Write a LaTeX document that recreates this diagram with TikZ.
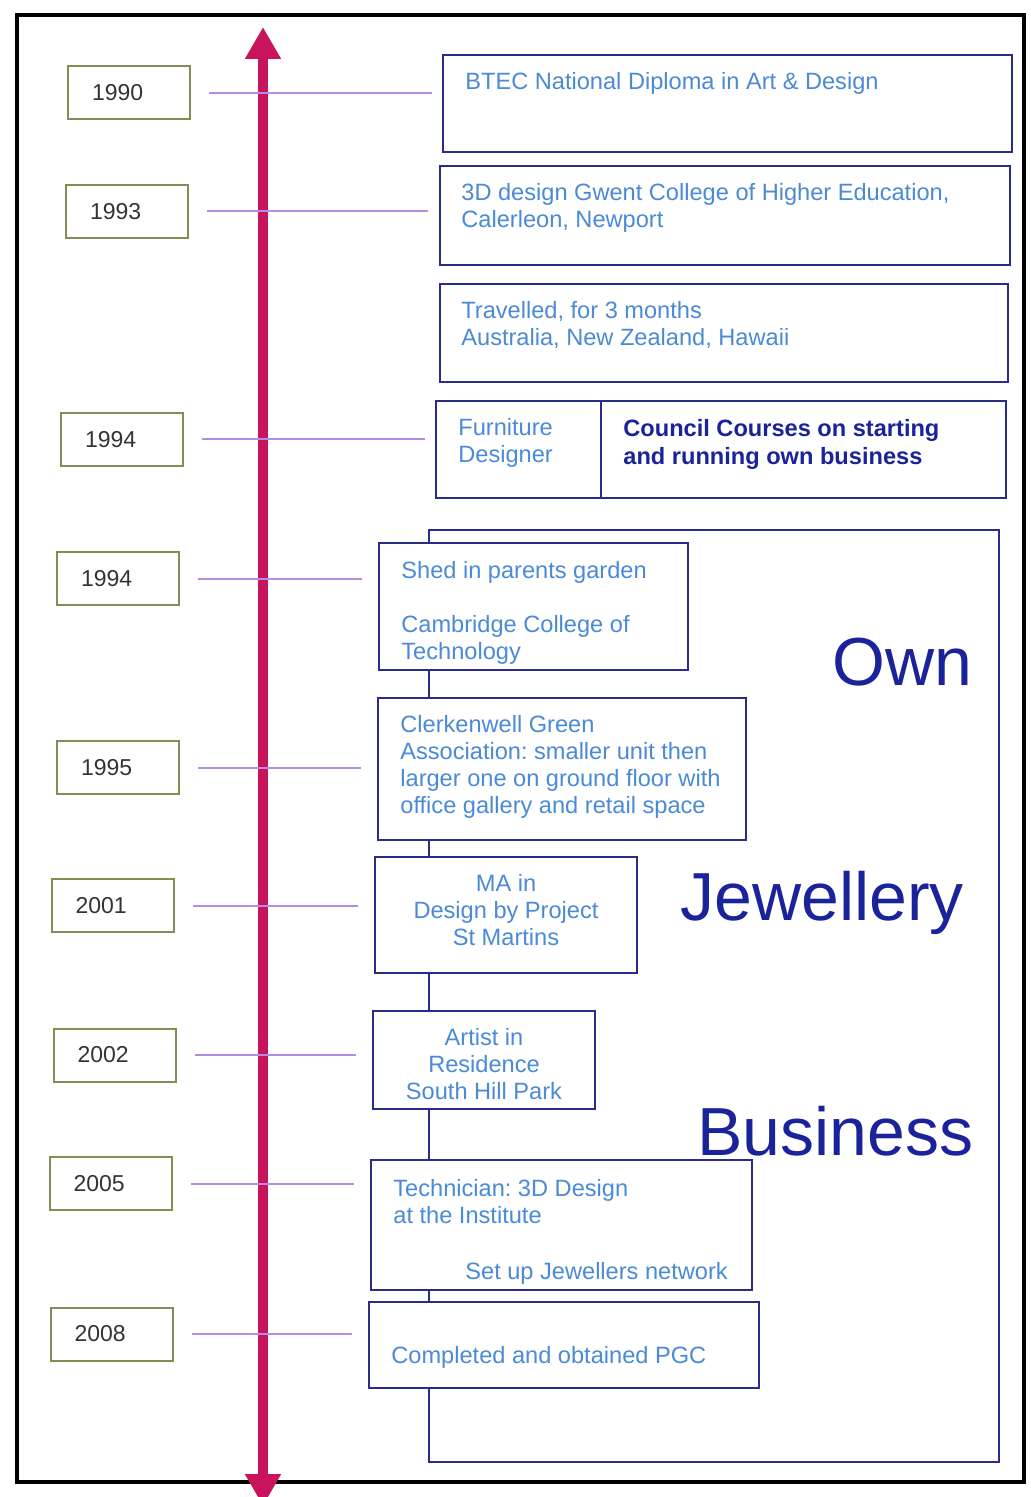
\documentclass[tikz,border=0pt]{standalone}
\usepackage{fontspec}
\setmainfont{Liberation Sans}
\usetikzlibrary{positioning,arrows.meta}
\frenchspacing

\definecolor{boxnavy}{HTML}{2B2B8C}
\definecolor{skyblue}{HTML}{4A8AD6}
\definecolor{royal}{HTML}{1A239A}
\definecolor{lilac}{HTML}{B48CE6}
\definecolor{crimson}{HTML}{C8145C}
\definecolor{yearolive}{HTML}{8A8A55}
\definecolor{yeargray}{HTML}{333333}

\tikzset{
  yearbox/.style={draw=yearolive, line width=1pt, minimum width=61pt, minimum height=26.5pt,
    inner xsep=12pt, inner ysep=0pt, text width=37pt, align=left, text=yeargray,
    font=\fontsize{11.5}{13}\selectfont},
  yearline/.style={draw=lilac, line width=1pt, shorten <=9pt, shorten >=8.5pt},
  evbox/.style={draw=boxnavy, line width=1.2pt, fill=white, inner sep=0pt, outer sep=0pt, anchor=north west},
  evtext/.style={text=skyblue, font=\fontsize{11.8}{13.5}\selectfont, align=left, inner sep=0pt},
  bigword/.style={text=royal, font=\fontsize{34}{40}\selectfont, inner sep=0pt},
  timeline/.style={draw=crimson, line width=5pt, {Triangle[width=17pt,length=16pt]}-{Triangle[width=17pt,length=16pt]}},
}

\begin{document}
\begin{tikzpicture}[x=0.5pt, y=-0.5pt]
	\useasboundingbox (0,0) rectangle (1030,1497);
	% Frame
	\draw[line width=2pt] (17,15) rectangle (1024,1482);
	% Own business block
	\draw[draw=boxnavy, line width=1.2pt] (429,530) rectangle (999,1462);
	% Events
	\node[evbox, minimum width=284.5pt, minimum height=48.5pt] (btec) at (443,55) {};
	\node[evtext, below right=8.5pt and 11pt of btec.north west] (btectxt) {BTEC National Diploma in Art \& Design};
	\node[evbox, minimum width=285pt, minimum height=49.5pt] (gwent) at (440,166) {};
	\node[evtext, below right=8.5pt and 10.5pt of gwent.north west] (gwenttxt) {3D design Gwent College of Higher Education,\\Calerleon, Newport};
	\node[evbox, minimum width=284pt, minimum height=49pt] (travel) at (440,284) {};
	\node[evtext, below right=8.5pt and 10.5pt of travel.north west] (traveltxt) {Travelled, for 3 months\\Australia, New Zealand, Hawaii};
	\node[evbox, minimum width=82.5pt, minimum height=48.5pt] (furn) at (436,401) {};
	\node[evtext, below right=8.5pt and 11pt of furn.north west] (furntxt) {Furniture\\Designer};
	\node[evbox, minimum width=202.5pt, minimum height=48.5pt] (council) at (furn.north east) {};
	\node[evtext, text=royal, font=\bfseries\fontsize{11.8}{13.8}\selectfont, below right=9pt and 11pt of council.north west] (counciltxt) {Council Courses on starting\\and running own business};
	\node[evbox, minimum width=154.5pt, minimum height=63.5pt] (shed) at (379,543) {};
	\node[evtext, below right=9pt and 11pt of shed.north west] (shedtxt) {Shed in parents garden\\[13.5pt]Cambridge College of\\Technology};
	\node[evbox, minimum width=184pt, minimum height=71pt] (clerk) at (378,698) {};
	\node[evtext, below right=8.5pt and 11pt of clerk.north west] (clerktxt) {Clerkenwell Green\\Association: smaller unit then\\larger one on ground floor with\\office gallery and retail space};
	\node[evbox, minimum width=131pt, minimum height=58pt] (ma) at (375,857) {};
	\node[evtext, align=center, below=8.5pt of ma.north] (matxt) {MA in\\Design by Project\\St Martins};
	\node[evbox, minimum width=111pt, minimum height=49pt] (artist) at (373,1011) {};
	\node[evtext, align=center, below=8.5pt of artist.north] (artisttxt) {Artist in\\Residence\\South Hill Park};
	\node[evbox, minimum width=190.5pt, minimum height=65pt] (tech) at (371,1160) {};
	\node[evtext, below right=9.5pt and 11pt of tech.north west] (techtxt) {Technician: 3D Design\\at the Institute};
	\node[evtext, above right=2.5pt and 47pt of tech.south west] (nettxt) {Set up Jewellers network};
	\node[evbox, minimum width=195pt, minimum height=43pt] (pgc) at (369,1302) {};
	\node[evtext, below right=22pt and 11pt of pgc.north west] (pgctxt) {Completed and obtained PGC};
	% Big words
	\node[bigword, anchor=base east] (own) at (973,685) {Own};
	\node[bigword, anchor=base west] (jewel) at (680,920) {Jewellery};
	\node[bigword, anchor=base west] (biz) at (697,1155) {Business};
	% Time axis
	\coordinate (past) at (263,1506);
	\coordinate (now) at (263,27);
	\draw[timeline] (past) -- (now);
	% Years
	\node[yearbox] (y90) at (129,93) {1990};
	\node[yearbox] (y93) at (127,211.5) {1993};
	\node[yearbox] (y94a) at (122,439.5) {1994};
	\node[yearbox] (y94b) at (118,578.5) {1994};
	\node[yearbox] (y95) at (118,767.5) {1995};
	\node[yearbox] (y01) at (112.5,905.5) {2001};
	\node[yearbox] (y02) at (114.5,1055) {2002};
	\node[yearbox] (y05) at (110.5,1183.5) {2005};
	\node[yearbox] (y08) at (111.5,1334) {2008};
	% Year lines
	\draw[yearline, shorten >=5.5pt] (y90.east) -- (y90.east -| btec.west);
	\draw[yearline, shorten >=6pt] (y93.east) -- (y93.east -| gwent.west);
	\draw[yearline, shorten >=5.5pt] (y94a.east) -- (y94a.east -| furn.west);
	\draw[yearline] (y94b.east) -- (y94b.east -| shed.west);
	\draw[yearline] (y95.east) -- (y95.east -| clerk.west);
	\draw[yearline] (y01.east) -- (y01.east -| ma.west);
	\draw[yearline] (y02.east) -- (y02.east -| artist.west);
	\draw[yearline] (y05.east) -- (y05.east -| tech.west);
	\draw[yearline] (y08.east) -- (y08.east -| pgc.west);
\end{tikzpicture}
\end{document}
